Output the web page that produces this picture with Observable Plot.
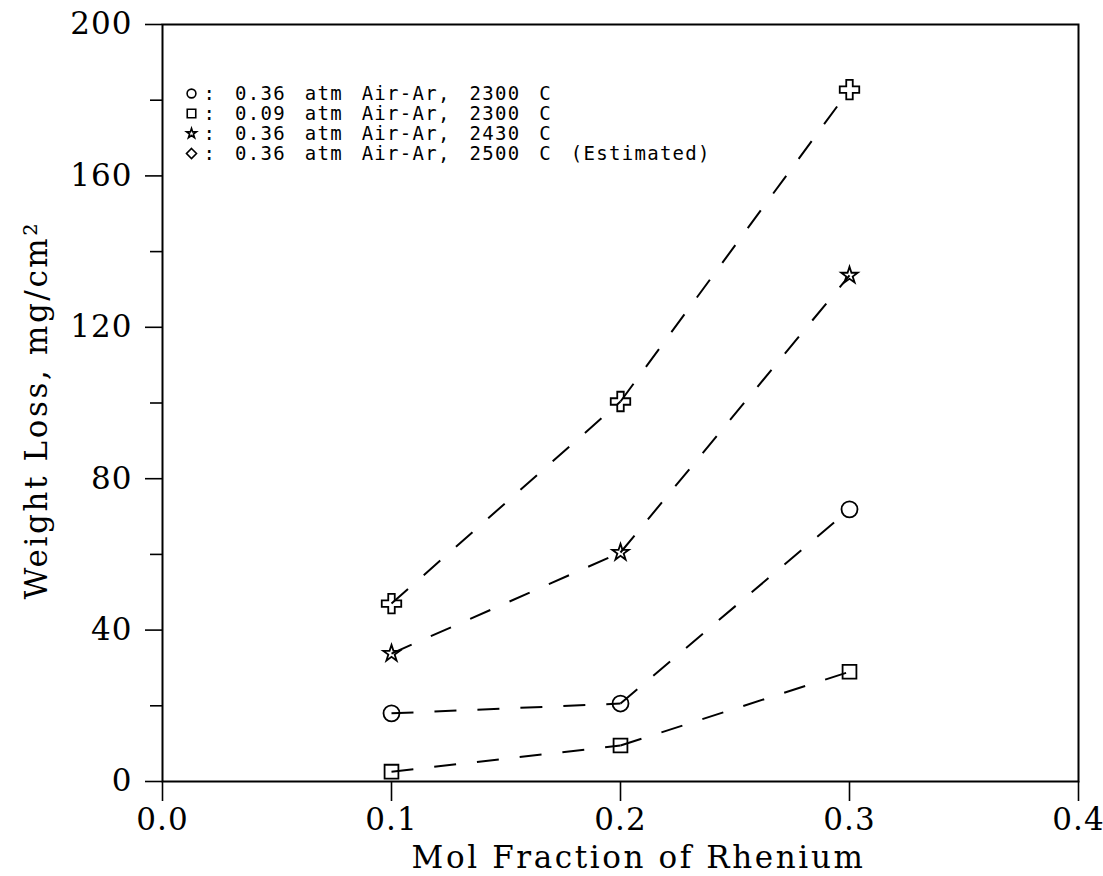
<!DOCTYPE html>
<html>
<head>
<meta charset="utf-8">
<script src="https://cdn.jsdelivr.net/npm/d3@7"></script>
<script src="https://cdn.jsdelivr.net/npm/@observablehq/plot@0.6"></script>
<style>
  html, body { margin: 0; padding: 0; background: #fff; }
  #chart svg { display: block; }
  g[aria-label="x-axis tick label"] text,
  g[aria-label="y-axis tick label"] text {
    font-family: "DejaVu Serif", serif !important;
    font-size: 31px !important;
    letter-spacing: 1px;
  }
  .axislabel text { font-family: "DejaVu Serif", serif; font-size: 31px; letter-spacing: 2.6px; }
  .legend text { font-family: "DejaVu Sans Mono", monospace; font-size: 19px; letter-spacing: 1.3px; word-spacing: 6px; }
</style>
</head>
<body>
<div id="chart"></div>
<script>
// ---- data ----
const molFraction = [0.1, 0.2, 0.3];
const seriesNames = ["0.36 atm Air-Ar, 2300 C", "0.09 atm Air-Ar, 2300 C", "0.36 atm Air-Ar, 2430 C", "0.36 atm Air-Ar, 2500 C (Estimated)"];
const loss2300_036 = [18.0, 20.6, 71.9];
const loss2300_009 = [2.6, 9.5, 29.0];
const loss2430_036 = [33.8, 60.5, 133.7];
const loss2500_036 = [47.0, 100.4, 182.8];
const xTicks = [0.0, 0.1, 0.2, 0.3, 0.4];
const yTicks = [0, 40, 80, 120, 160, 200];
const yMinorTicks = [20, 60, 100, 140, 180];
const xLabel = "Mol Fraction of Rhenium";
const yLabel = "Weight Loss, mg/cm\u00B2";

// ---- styles (kept separate from data) ----
const plotSymbols = ["circle", "square", "star", "cross"];
const plotRadius = [8, 7.8, 5.2, 8.2];
const legendSymbols = ["circle", "square", "star", "diamond2"];
const legendRadius = [4.4, 4.8, 3.1, 4.5];

const allSeries = [loss2300_036, loss2300_009, loss2430_036, loss2500_036];
const rows = allSeries.map((vals, s) => molFraction.map((x, i) => ({x, y: vals[i], s})));
const segments = rows.flatMap(r => r.slice(1).map((p, i) => ({x1: r[i].x, y1: r[i].y, x2: p.x, y2: p.y})));

const chart = Plot.plot({
  width: 1103,
  height: 876,
  marginLeft: 162,
  marginRight: 25,
  marginTop: 24,
  marginBottom: 95,
  style: {background: "white", color: "black", overflow: "visible"},
  x: {domain: [0, 0.4]},
  y: {domain: [0, 200]},
  marks: [
    Plot.frame({stroke: "black", strokeWidth: 2}),
    Plot.axisX({ticks: xTicks, tickFormat: d => d.toFixed(1), tickSize: 20, tickPadding: 6, strokeWidth: 1.6, label: null}),
    Plot.axisY({ticks: yTicks, tickFormat: d => String(d), tickSize: 17, tickPadding: 13, strokeWidth: 1.6, label: null}),
    Plot.axisY({ticks: yMinorTicks, tickFormat: () => "", tickSize: 12, strokeWidth: 1.6, label: null}),
    Plot.link(segments, {x1: "x1", y1: "y1", x2: "x2", y2: "y2", stroke: "black", strokeWidth: 2, strokeDasharray: "22,21"}),
    ...rows.map((r, s) => Plot.dot(r, {x: "x", y: "y", symbol: plotSymbols[s], r: plotRadius[s], stroke: "black", strokeWidth: 1.8, fill: "none"})),
    ...seriesNames.flatMap((name, i) => [
      Plot.dot([name], {frameAnchor: "top-left", dx: 29, dy: 69 + 20 * i, symbol: legendSymbols[i], r: legendRadius[i], stroke: "black", strokeWidth: 1.6, fill: "none"}),
      Plot.text([": " + name], {frameAnchor: "top-left", dx: 41, dy: 69 + 20 * i, textAnchor: "start", lineAnchor: "middle", className: "legend", fill: "black"})
    ]),
    Plot.text([xLabel], {frameAnchor: "bottom", dx: 18, dy: 77, textAnchor: "middle", lineAnchor: "middle", className: "axislabel", fill: "black"}),
    Plot.text([yLabel], {frameAnchor: "left", dx: -125, dy: 7, rotate: -90, textAnchor: "middle", lineAnchor: "middle", className: "axislabel", fill: "black"})
  ]
});
document.getElementById("chart").appendChild(chart);
</script>
</body>
</html>
